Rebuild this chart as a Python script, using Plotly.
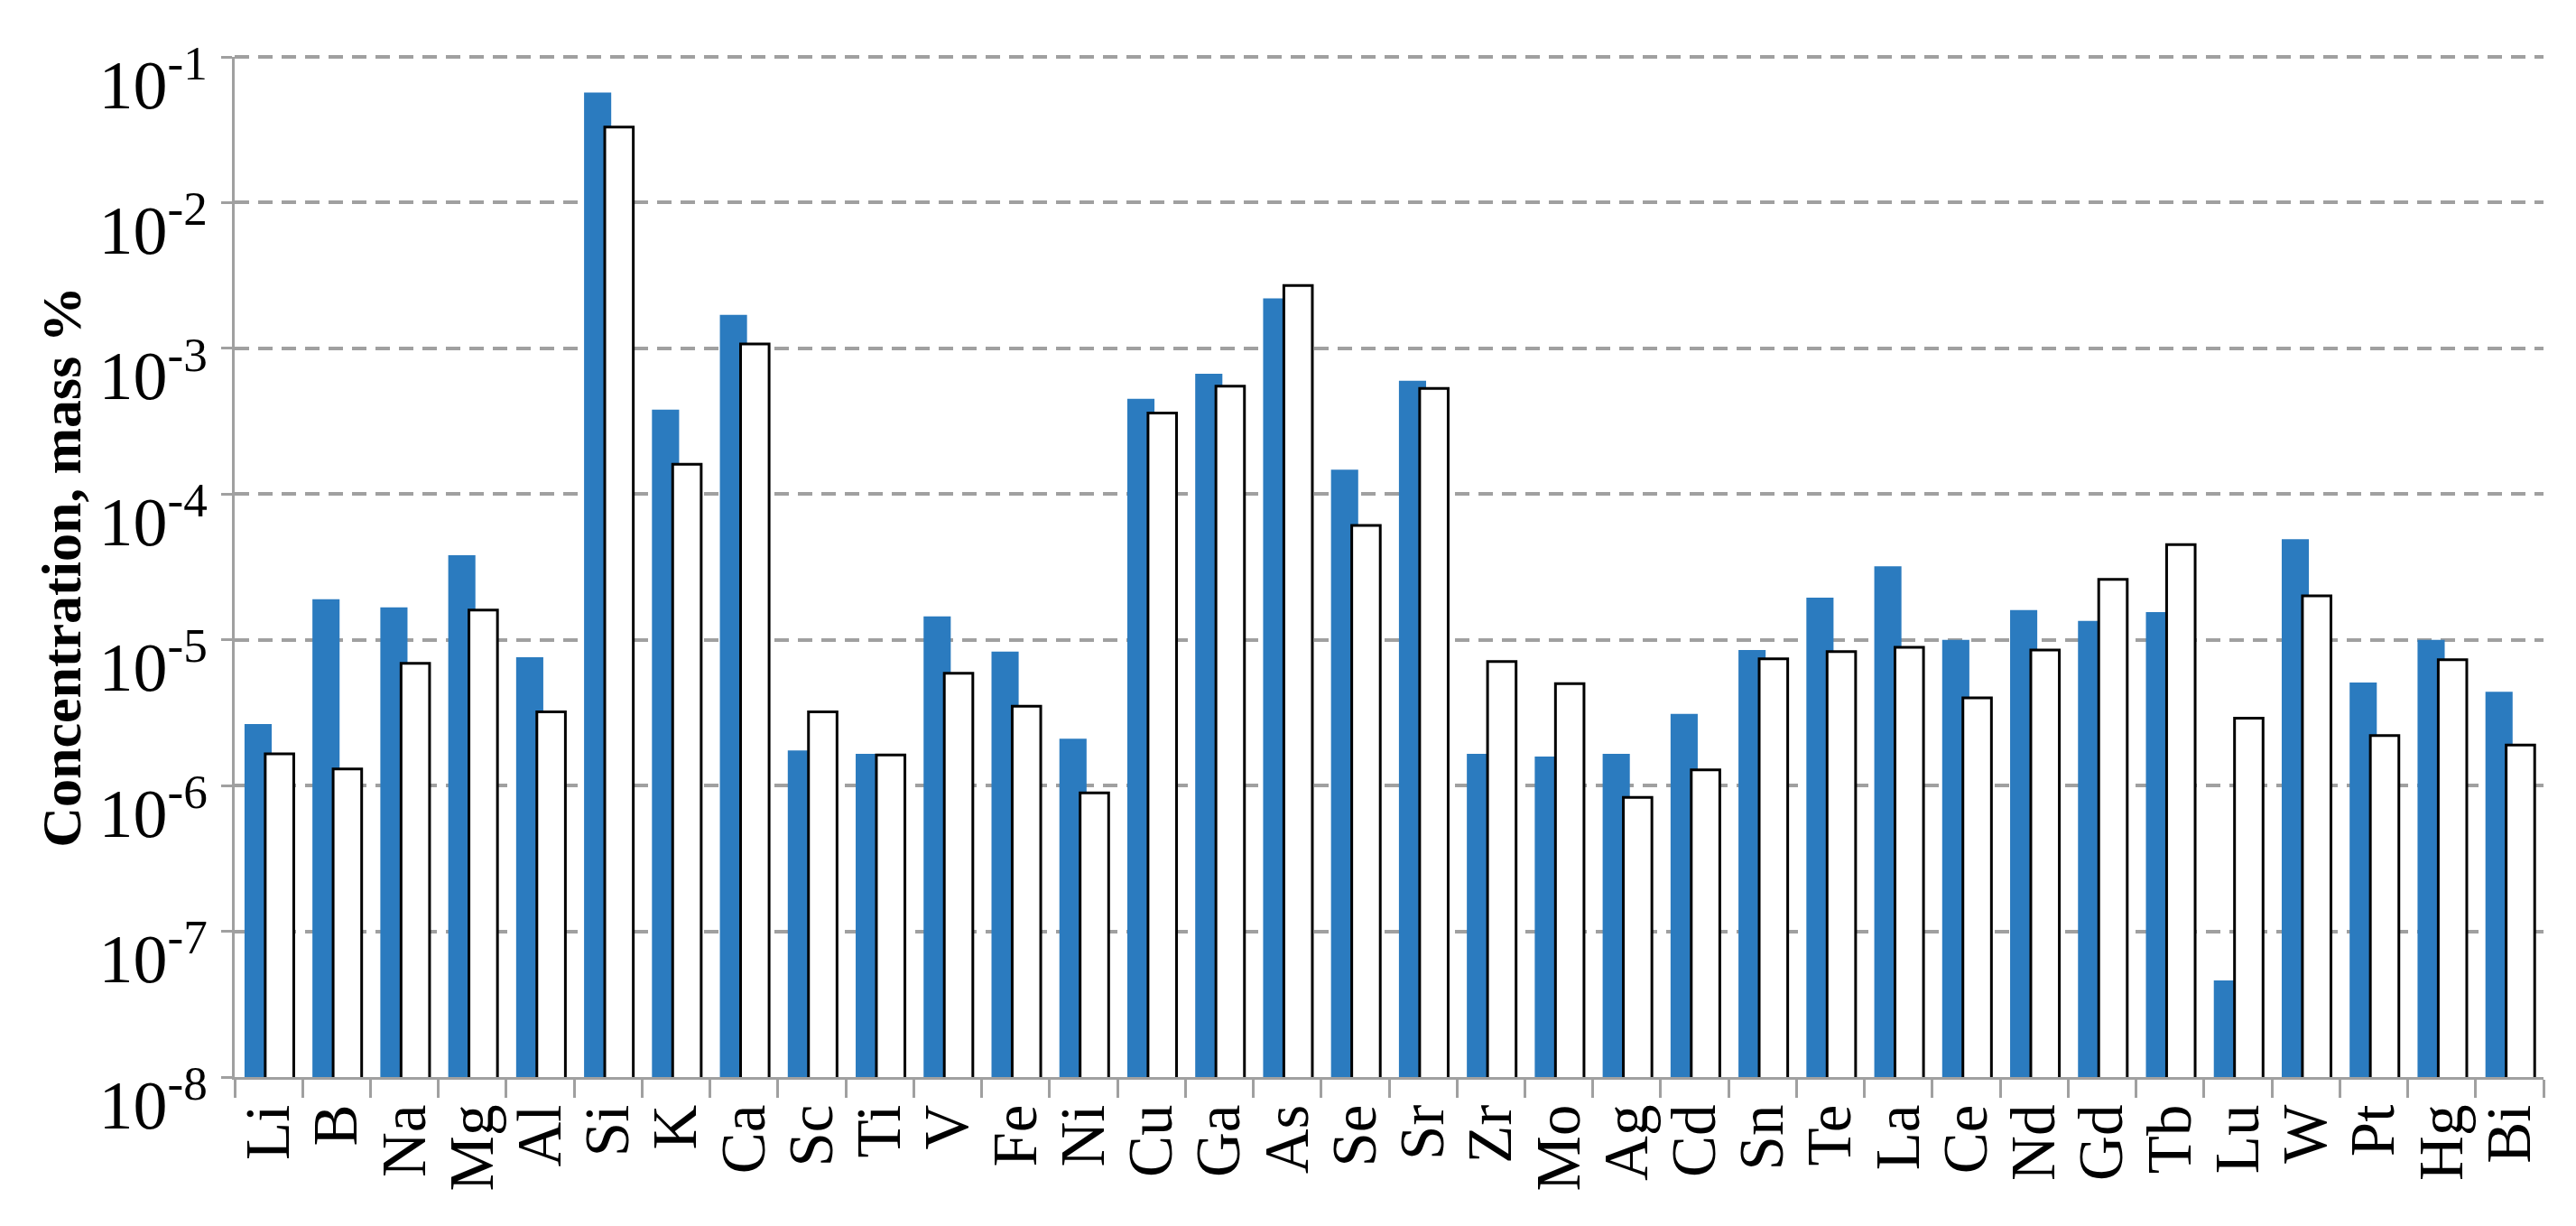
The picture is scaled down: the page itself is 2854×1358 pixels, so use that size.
import plotly.graph_objects as go

elements = ["Li", "B", "Na", "Mg", "Al", "Si", "K", "Ca", "Sc", "Ti", "V", "Fe", "Ni",
            "Cu", "Ga", "As", "Se", "Sr", "Zr", "Mo", "Ag", "Cd", "Sn", "Te", "La", "Ce",
            "Nd", "Gd", "Tb", "Lu", "W", "Pt", "Hg", "Bi"]

series_blue = [2.64e-6, 1.9e-5, 1.67e-5, 3.8e-5, 7.6e-6, 5.7e-2, 3.8e-4, 1.7e-3, 1.74e-6,
               1.65e-6, 1.45e-5, 8.3e-6, 2.1e-6, 4.5e-4, 6.7e-4, 2.2e-3, 1.47e-4, 6.0e-4,
               1.65e-6, 1.58e-6, 1.65e-6, 3.1e-6, 8.5e-6, 1.95e-5, 3.2e-5, 1.0e-5, 1.6e-5,
               1.35e-5, 1.55e-5, 4.6e-8, 4.9e-5, 5.1e-6, 1.0e-5, 4.4e-6]

series_white = [1.65e-6, 1.3e-6, 6.9e-6, 1.6e-5, 3.2e-6, 3.3e-2, 1.6e-4, 1.07e-3, 3.2e-6,
                1.62e-6, 5.9e-6, 3.5e-6, 8.9e-7, 3.6e-4, 5.5e-4, 2.7e-3, 6.1e-5, 5.3e-4,
                7.1e-6, 5.0e-6, 8.3e-7, 1.28e-6, 7.4e-6, 8.3e-6, 8.9e-6, 4.0e-6, 8.5e-6,
                2.6e-5, 4.5e-5, 2.9e-6, 2.0e-5, 2.2e-6, 7.3e-6, 1.9e-6]

y_exponents = [-8, -7, -6, -5, -4, -3, -2, -1]
y_tickvals = [10.0 ** e for e in y_exponents]
y_ticktext = ["10<sup>%d</sup>" % e for e in y_exponents]

GRID = "#A0A0A0"
SERIF = "Liberation Serif, Times New Roman, serif"

fig = go.Figure()
fig.add_trace(go.Bar(
    x=elements, y=series_blue,
    marker=dict(color="#2B7BBF", line=dict(width=0)),
    offset=-0.355, width=0.40,
    showlegend=False,
))
fig.add_trace(go.Bar(
    x=elements, y=series_white,
    marker=dict(color="white", line=dict(color="black", width=3)),
    offset=-0.05, width=0.42,
    showlegend=False,
))

# top decade gridline at the upper edge of the axis range (plotly skips it)
fig.add_shape(type="line", xref="paper", yref="paper",
              x0=0, x1=1, y0=1, y1=1,
              line=dict(color=GRID, width=4, dash="16px,10px"), layer="below")

fig.update_layout(
    width=2846, height=1350,
    barmode="overlay",
    plot_bgcolor="white", paper_bgcolor="white",
    margin=dict(l=252, r=36, t=55, b=165),
    font=dict(family=SERIF, color="black"),
    xaxis=dict(
        type="category",
        tickmode="array", tickvals=elements, ticktext=elements,
        tickson="boundaries",
        ticks="outside", ticklen=20, tickwidth=3, tickcolor=GRID,
        showline=True, linecolor=GRID, linewidth=3,
        showgrid=False,
        tickangle=-90,
        tickfont=dict(family=SERIF, size=69, color="black"),
        range=[-0.5, len(elements) - 0.5],
    ),
    yaxis=dict(
        type="log",
        range=[-8, -1],
        tickvals=y_tickvals, ticktext=y_ticktext,
        ticks="outside", ticklen=12, tickwidth=3, tickcolor=GRID,
        ticklabelshift=30, ticklabeloverflow="allow",
        showline=True, linecolor=GRID, linewidth=3,
        showgrid=True, gridcolor=GRID, gridwidth=4, griddash="16px,10px",
        zeroline=False,
        tickfont=dict(family=SERIF, size=76, color="black"),
        title=dict(text="<b>Concentration, mass %</b>",
                   font=dict(family=SERIF, size=62, color="black"),
                   standoff=0),
    ),
)

fig.write_html("out.html")
